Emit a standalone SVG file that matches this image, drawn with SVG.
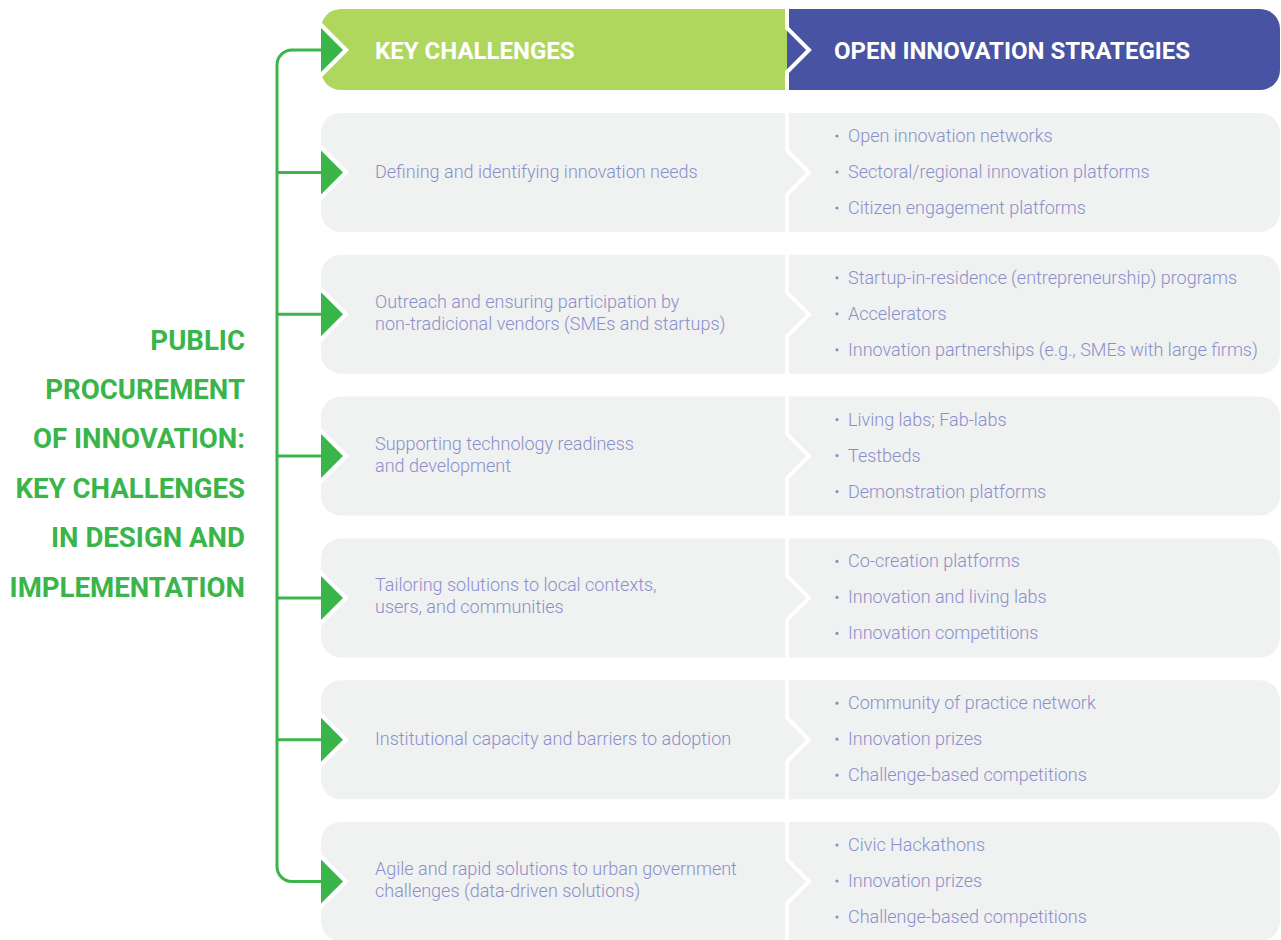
<svg xmlns="http://www.w3.org/2000/svg" width="1281" height="940" viewBox="0 0 1281 940">
  <defs>
    <style>
      .title { font-family: Roboto, "Liberation Sans", sans-serif; font-weight: 700; font-size: 27.6px; fill: #39b54a; text-anchor: end; }
      .head { font-family: Roboto, "Liberation Sans", sans-serif; font-weight: 700; font-size: 24px; fill: #ffffff; }
      .body { font-family: Roboto, "Liberation Sans", sans-serif; font-weight: 300; font-size: 18px; fill: #8a8fca; }
      .box { fill: #f0f1f1; }
      .divider { fill: none; stroke: #ffffff; stroke-width: 4; stroke-linejoin: miter; }
      .link { fill: none; stroke: #39b54a; stroke-width: 3; }
      .notch { fill: #ffffff; }
      .tri { fill: #39b54a; }
      .dot { fill: #8a8fca; }
    </style>
  </defs>

  <rect width="1281" height="940" fill="#ffffff"/>

  <!-- side title -->
  <g id="title">
    <text class="title" x="245" y="349.5">PUBLIC</text>
    <text class="title" x="245" y="398.5">PROCUREMENT</text>
    <text class="title" x="245" y="447.5">OF INNOVATION:</text>
    <text class="title" x="245" y="497.5">KEY CHALLENGES</text>
    <text class="title" x="245" y="546.5">IN DESIGN AND</text>
    <text class="title" x="245" y="596.5">IMPLEMENTATION</text>
  </g>

  <!-- connectors: green spine with branches into each row -->
  <g id="connectors">
    <path class="link" d="M 322 50 H 292 A 15 15 0 0 0 277 65 V 866.5 A 15 15 0 0 0 292 881.5 H 322"/>
    <path class="link" d="M 277 172.5 H 322"/>
    <path class="link" d="M 277 314.3 H 322"/>
    <path class="link" d="M 277 456.1 H 322"/>
    <path class="link" d="M 277 597.9 H 322"/>
    <path class="link" d="M 277 739.7 H 322"/>
  </g>

  <!-- header band -->
  <g id="header">
    <path d="M 341 9 H 787 V 90 H 341 A 20 20 0 0 1 321 70 V 29 A 20 20 0 0 1 341 9 Z" fill="#afd75e"/>
    <path d="M 787 9 H 1260 A 20 20 0 0 1 1280 29 V 70 A 20 20 0 0 1 1260 90 H 787 Z" fill="#4854a3"/>
    <polyline class="divider" points="787,9 787,28 809,50 787,72 787,90"/>
    <polygon class="notch" points="321,22 349,50 321,78"/>
    <polygon class="tri" points="321,28 343,50 321,72"/>
    <text class="head" x="375" y="58.5">KEY CHALLENGES</text>
    <text class="head" x="834" y="58.5">OPEN INNOVATION STRATEGIES</text>
  </g>

  <!-- row 1 -->
  <g id="row1" transform="translate(0,113)">
    <rect class="box" x="321" y="0" width="959" height="119" rx="20"/>
    <polyline class="divider" points="787,0 787,37.5 809,59.5 787,81.5 787,119"/>
    <polygon class="notch" points="321,31.5 349,59.5 321,87.5"/>
    <polygon class="tri" points="321,37.5 343,59.5 321,81.5"/>
    <text class="body" x="375" y="65">Defining and identifying innovation needs</text>
    <circle class="dot" cx="837" cy="23" r="1.6"/>
    <circle class="dot" cx="837" cy="59" r="1.6"/>
    <circle class="dot" cx="837" cy="95" r="1.6"/>
    <text class="body" x="848" y="29">Open innovation networks</text>
    <text class="body" x="848" y="65">Sectoral/regional innovation platforms</text>
    <text class="body" x="848" y="101">Citizen engagement platforms</text>
  </g>

  <!-- row 2 -->
  <g id="row2" transform="translate(0,254.8)">
    <rect class="box" x="321" y="0" width="959" height="119" rx="20"/>
    <polyline class="divider" points="787,0 787,37.5 809,59.5 787,81.5 787,119"/>
    <polygon class="notch" points="321,31.5 349,59.5 321,87.5"/>
    <polygon class="tri" points="321,37.5 343,59.5 321,81.5"/>
    <text class="body" x="375" y="53">Outreach and ensuring participation by</text>
    <text class="body" x="375" y="75">non-tradicional vendors (SMEs and startups)</text>
    <circle class="dot" cx="837" cy="23" r="1.6"/>
    <circle class="dot" cx="837" cy="59" r="1.6"/>
    <circle class="dot" cx="837" cy="95" r="1.6"/>
    <text class="body" x="848" y="29">Startup-in-residence (entrepreneurship) programs</text>
    <text class="body" x="848" y="65">Accelerators</text>
    <text class="body" x="848" y="101">Innovation partnerships (e.g., SMEs with large firms)</text>
  </g>

  <!-- row 3 -->
  <g id="row3" transform="translate(0,396.6)">
    <rect class="box" x="321" y="0" width="959" height="119" rx="20"/>
    <polyline class="divider" points="787,0 787,37.5 809,59.5 787,81.5 787,119"/>
    <polygon class="notch" points="321,31.5 349,59.5 321,87.5"/>
    <polygon class="tri" points="321,37.5 343,59.5 321,81.5"/>
    <text class="body" x="375" y="53">Supporting technology readiness</text>
    <text class="body" x="375" y="75">and development</text>
    <circle class="dot" cx="837" cy="23" r="1.6"/>
    <circle class="dot" cx="837" cy="59" r="1.6"/>
    <circle class="dot" cx="837" cy="95" r="1.6"/>
    <text class="body" x="848" y="29">Living labs; Fab-labs</text>
    <text class="body" x="848" y="65">Testbeds</text>
    <text class="body" x="848" y="101">Demonstration platforms</text>
  </g>

  <!-- row 4 -->
  <g id="row4" transform="translate(0,538.4)">
    <rect class="box" x="321" y="0" width="959" height="119" rx="20"/>
    <polyline class="divider" points="787,0 787,37.5 809,59.5 787,81.5 787,119"/>
    <polygon class="notch" points="321,31.5 349,59.5 321,87.5"/>
    <polygon class="tri" points="321,37.5 343,59.5 321,81.5"/>
    <text class="body" x="375" y="53">Tailoring solutions to local contexts,</text>
    <text class="body" x="375" y="75">users, and communities</text>
    <circle class="dot" cx="837" cy="23" r="1.6"/>
    <circle class="dot" cx="837" cy="59" r="1.6"/>
    <circle class="dot" cx="837" cy="95" r="1.6"/>
    <text class="body" x="848" y="29">Co-creation platforms</text>
    <text class="body" x="848" y="65">Innovation and living labs</text>
    <text class="body" x="848" y="101">Innovation competitions</text>
  </g>

  <!-- row 5 -->
  <g id="row5" transform="translate(0,680.2)">
    <rect class="box" x="321" y="0" width="959" height="119" rx="20"/>
    <polyline class="divider" points="787,0 787,37.5 809,59.5 787,81.5 787,119"/>
    <polygon class="notch" points="321,31.5 349,59.5 321,87.5"/>
    <polygon class="tri" points="321,37.5 343,59.5 321,81.5"/>
    <text class="body" x="375" y="65">Institutional capacity and barriers to adoption</text>
    <circle class="dot" cx="837" cy="23" r="1.6"/>
    <circle class="dot" cx="837" cy="59" r="1.6"/>
    <circle class="dot" cx="837" cy="95" r="1.6"/>
    <text class="body" x="848" y="29">Community of practice network</text>
    <text class="body" x="848" y="65">Innovation prizes</text>
    <text class="body" x="848" y="101">Challenge-based competitions</text>
  </g>

  <!-- row 6 -->
  <g id="row6" transform="translate(0,822)">
    <rect class="box" x="321" y="0" width="959" height="119" rx="20"/>
    <polyline class="divider" points="787,0 787,37.5 809,59.5 787,81.5 787,119"/>
    <polygon class="notch" points="321,31.5 349,59.5 321,87.5"/>
    <polygon class="tri" points="321,37.5 343,59.5 321,81.5"/>
    <text class="body" x="375" y="53">Agile and rapid solutions to urban government</text>
    <text class="body" x="375" y="75">challenges (data-driven solutions)</text>
    <circle class="dot" cx="837" cy="23" r="1.6"/>
    <circle class="dot" cx="837" cy="59" r="1.6"/>
    <circle class="dot" cx="837" cy="95" r="1.6"/>
    <text class="body" x="848" y="29">Civic Hackathons</text>
    <text class="body" x="848" y="65">Innovation prizes</text>
    <text class="body" x="848" y="101">Challenge-based competitions</text>
  </g>
</svg>
